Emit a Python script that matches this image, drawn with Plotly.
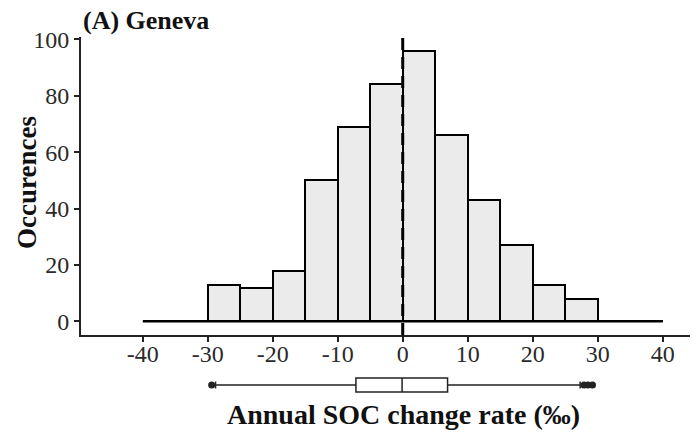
import plotly.graph_objects as go

# Histogram data (bin width 5)
bin_left = [-40, -35, -30, -25, -20, -15, -10, -5, 0, 5, 10, 15, 20, 25, 30, 35]
counts = [0, 0, 13, 12, 18, 50, 69, 84, 96, 66, 43, 27, 13, 8, 0, 0]
bin_width = 5

# Boxplot summary
box_q1 = -7.2
box_median = -0.1
box_q3 = 6.9
box_low = -28.8
box_high = 27.3
outliers = [-29.4, 27.9, 28.5, 29.2]

x_ticks = [-40, -30, -20, -10, 0, 10, 20, 30, 40]
y_ticks = [0, 20, 40, 60, 80, 100]

FONT = "Liberation Serif"
W, H = 693, 440
ml, mr, mt, mb = 81, 3, 37, 40
ph = H - mt - mb

def py(pix):
    return (H - mb - pix) / ph

centers = [b + bin_width / 2 for b in bin_left]

fig = go.Figure()
fig.add_trace(go.Scatter(x=[bin_left[0], bin_left[-1] + bin_width], y=[0, 0], mode="lines",
                         line=dict(color="black", width=2), xaxis="x", yaxis="y", hoverinfo="skip"))
fig.add_trace(go.Bar(x=centers, y=counts, width=bin_width,
                     marker=dict(color="#ebebeb", line=dict(color="black", width=2)),
                     xaxis="x", yaxis="y"))
fig.add_trace(go.Box(q1=[box_q1], median=[box_median], q3=[box_q3],
                     lowerfence=[box_low], upperfence=[box_high], y=[0],
                     orientation="h", width=1, fillcolor="white",
                     line=dict(color="#222", width=1.5), xaxis="x2", yaxis="y2",
                     boxpoints=False))
fig.add_trace(go.Scatter(x=outliers, y=[0] * len(outliers), mode="markers",
                         marker=dict(color="#222", size=7), xaxis="x2", yaxis="y2"))

xr = [-49.5, 44.2]
fig.update_layout(
    width=W, height=H, showlegend=False,
    margin=dict(l=ml, r=mr, t=mt, b=mb),
    plot_bgcolor="white", paper_bgcolor="white",
    bargap=0,
    xaxis=dict(domain=[0, 1], range=xr, anchor="y", tickvals=x_ticks,
               ticktext=[str(v) for v in x_ticks], ticklabelstandoff=-9,
               showline=True, linecolor="#222", linewidth=2, ticks="outside",
               ticklen=5, tickwidth=1.5, tickcolor="#222", showgrid=False, zeroline=False,
               tickfont=dict(family=FONT, size=24, color="#2a2a2a")),
    yaxis=dict(domain=[py(335), 1], range=[-4.8, 100.8], tickvals=y_ticks,
               showline=True, linecolor="#222", linewidth=2, ticks="outside",
               ticklen=5, tickwidth=1.5, tickcolor="#222", showgrid=False, zeroline=False,
               tickfont=dict(family=FONT, size=24, color="#2a2a2a")),
    xaxis2=dict(domain=[0, 1], range=xr, anchor="y2", visible=False),
    yaxis2=dict(domain=[py(399), py(371)], range=[-1, 1], visible=False, anchor="x2"),
    shapes=[dict(type="line", xref="x", yref="y", x0=0, x1=0, y0=-4.8, y1=100.8,
                 line=dict(color="black", width=3, dash="12px,7px"))],
    annotations=[
        dict(text="<b>(A) Geneva</b>", xref="paper", yref="paper", x=0, y=py(20),
             xanchor="left", yanchor="middle", showarrow=False,
             font=dict(family=FONT, size=26, color="#111")),
        dict(text="<b>Occurences</b>", xref="paper", yref="paper", x=(27 - ml) / (W - ml - mr),
             y=py(183), textangle=-90, xanchor="center", yanchor="middle", showarrow=False,
             font=dict(family=FONT, size=27, color="#111")),
        dict(text="<b>Annual SOC change rate (‰)</b>", xref="paper", yref="paper",
             x=(403 - ml) / (W - ml - mr), y=py(414), xanchor="center", yanchor="middle",
             showarrow=False, font=dict(family=FONT, size=28, color="#111")),
    ],
)

fig.write_html("out.html")
